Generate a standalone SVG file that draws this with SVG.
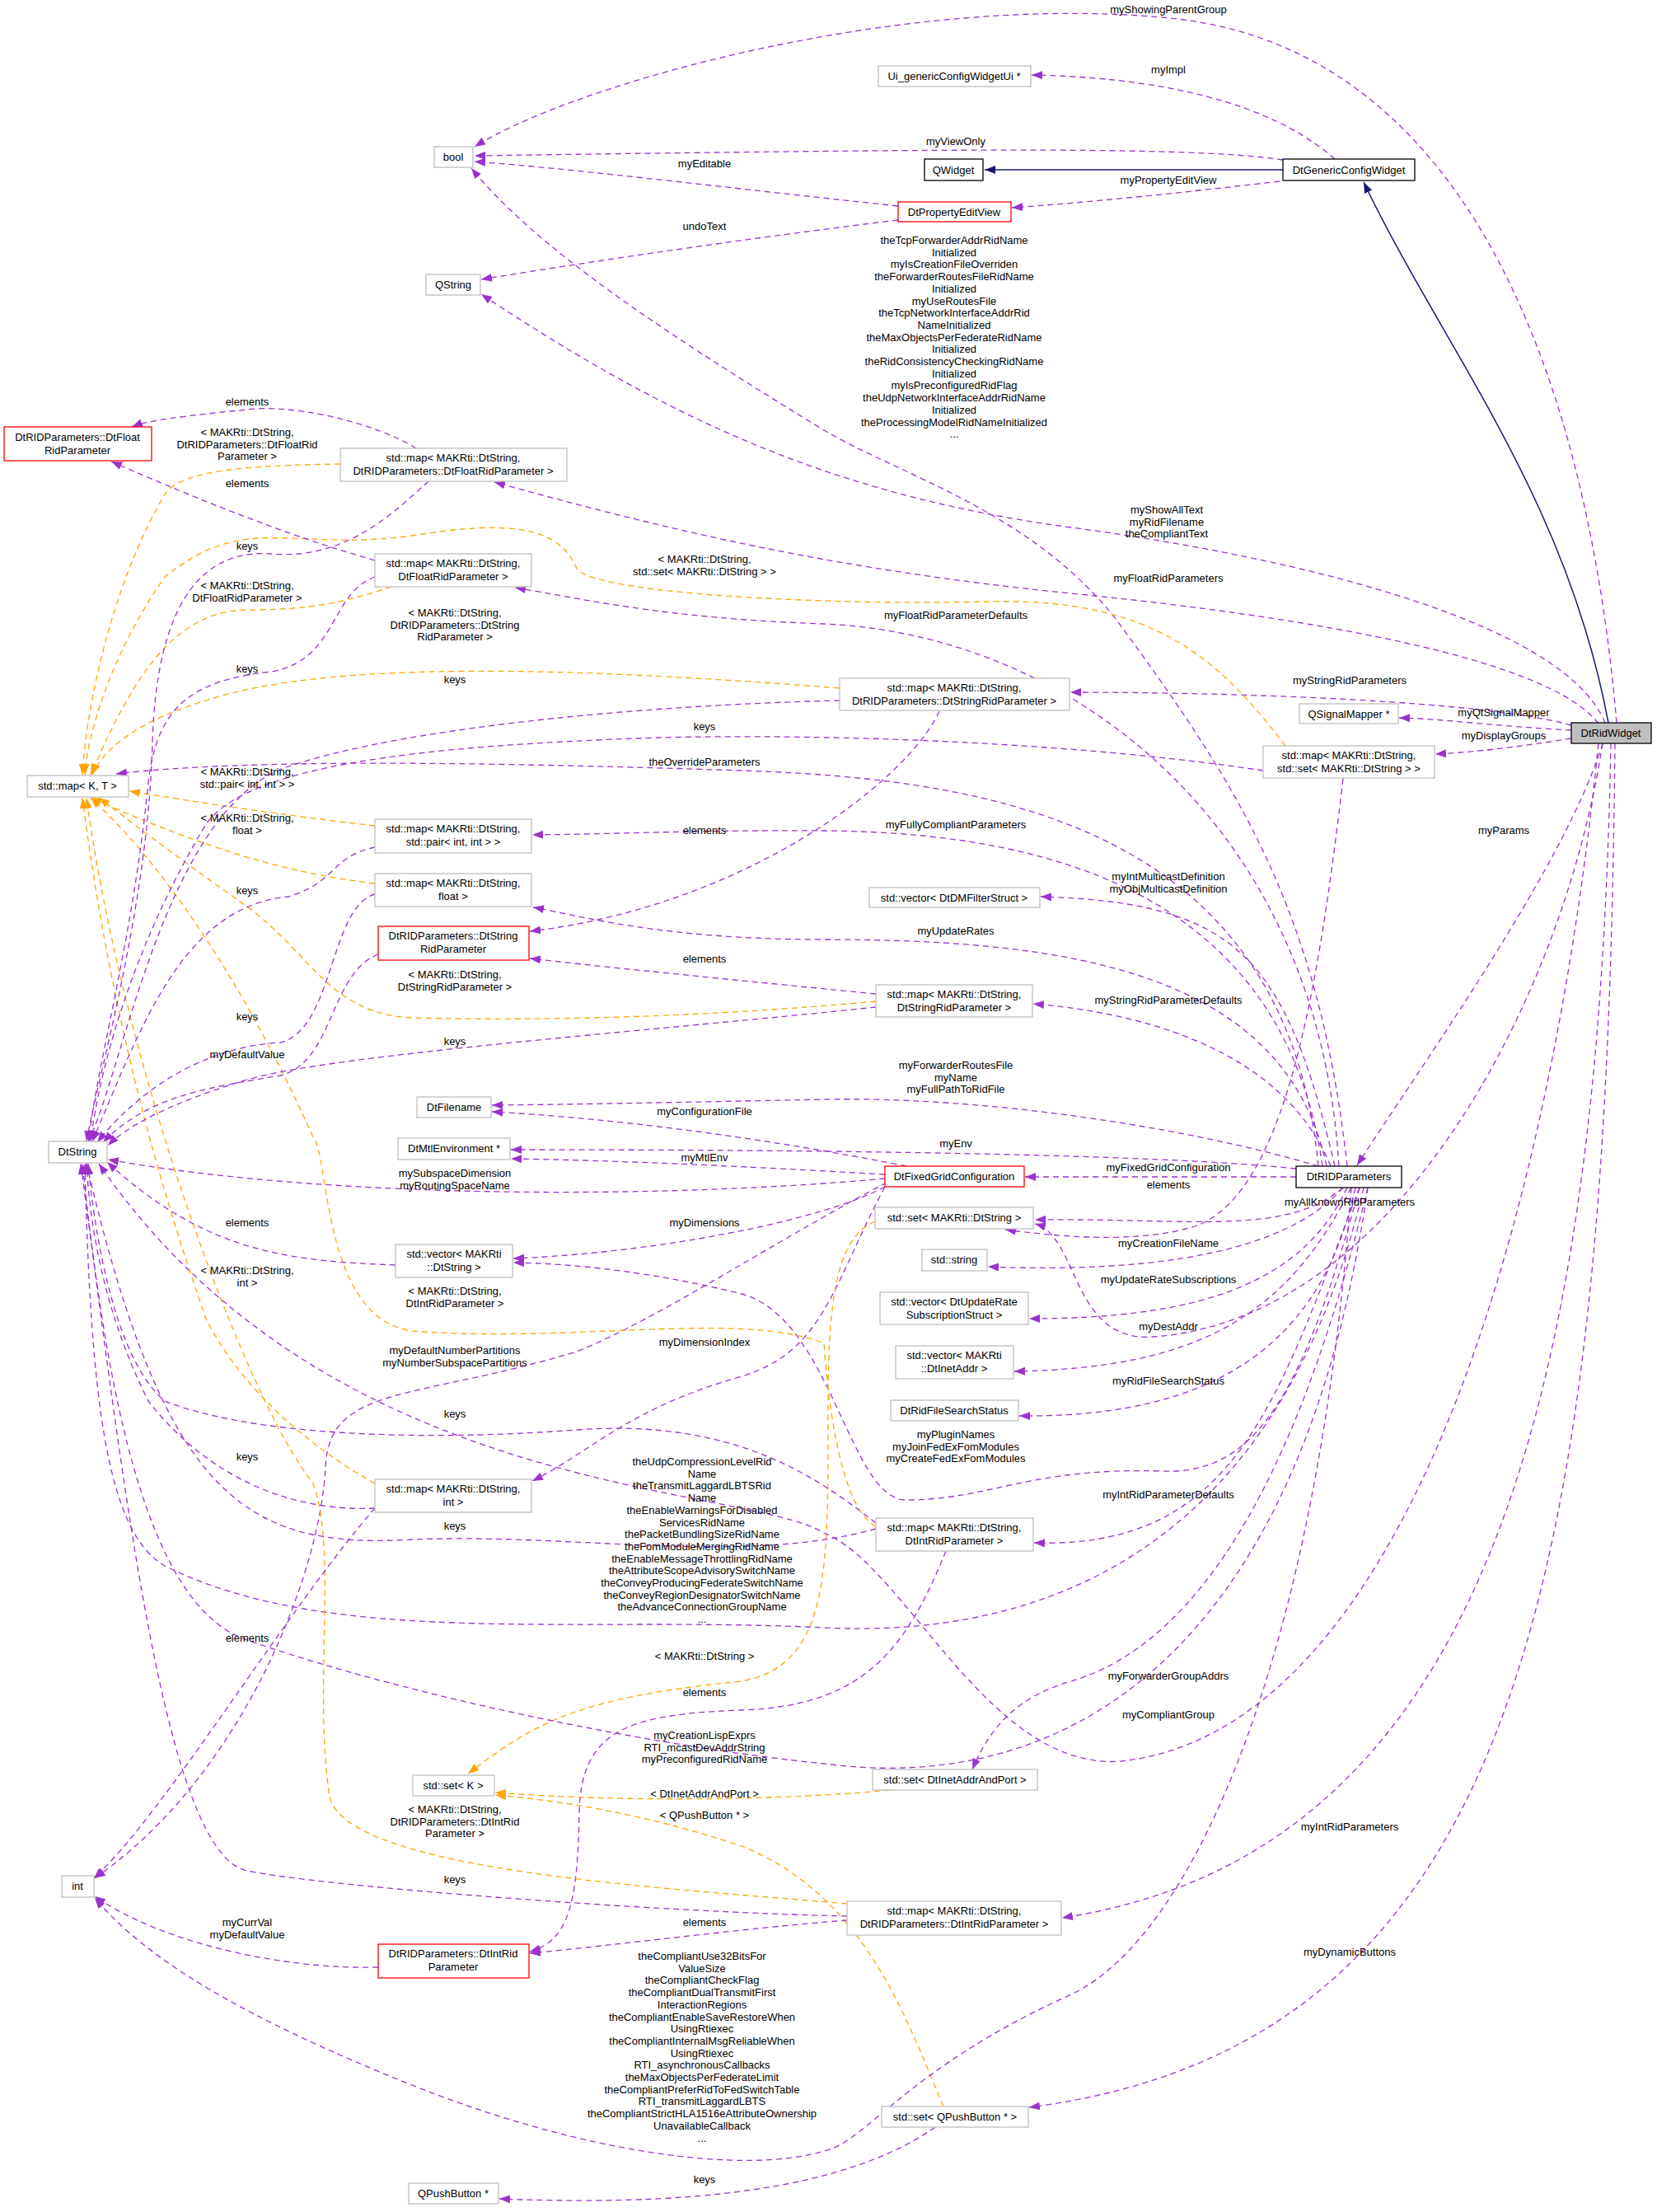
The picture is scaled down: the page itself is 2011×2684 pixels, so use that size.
<svg xmlns="http://www.w3.org/2000/svg" width="2011" height="2684" viewBox="0 0 2011 2684">
<style>
text{font-family:"Liberation Sans",Arial,sans-serif;font-size:13px;fill:#000;text-anchor:middle}
.n{fill:#fff;stroke:#bfbfbf;stroke-width:1.3}
.r{fill:#fff;stroke:#ff0000;stroke-width:1.3}
.k{fill:#fff;stroke:#000;stroke-width:1.3}
.p{fill:none;stroke:#9a32cd;stroke-width:1.3;stroke-dasharray:7,5;marker-end:url(#ap)}
.o{fill:none;stroke:#ffa500;stroke-width:1.3;stroke-dasharray:7,5;marker-end:url(#ao)}
.b{fill:none;stroke:#191970;stroke-width:1.5;marker-end:url(#ab)}
</style>
<defs>
<marker id="ap" markerUnits="userSpaceOnUse" markerWidth="14" markerHeight="10" refX="13" refY="5" orient="auto"><path d="M0,0 L13,5 L0,10 z" fill="#9a32cd"/></marker>
<marker id="ao" markerUnits="userSpaceOnUse" markerWidth="14" markerHeight="10" refX="13" refY="5" orient="auto"><path d="M0,0 L13,5 L0,10 z" fill="#ffa500"/></marker>
<marker id="ab" markerUnits="userSpaceOnUse" markerWidth="14" markerHeight="10" refX="13" refY="5" orient="auto"><path d="M0,0 L13,5 L0,10 z" fill="#191970"/></marker>
</defs>
<rect width="2011" height="2684" fill="#fff"/>
<g id="connectors">
<path class="p" d="M1962,877 C1930,500 1800,60 1420,22 C1100,-10 700,100 576,178"/>
<path class="p" d="M1620,193 C1560,140 1450,95 1252,91"/>
<path class="p" d="M1557,194 C1450,178 1200,180 576,189"/>
<path class="b" d="M1557,206 L1195,206"/>
<path class="b" d="M1952,877 C1900,600 1750,420 1655,221"/>
<path class="p" d="M1553,220 C1450,232 1330,245 1228,252"/>
<path class="p" d="M1090,250 C900,230 700,205 576,196"/>
<path class="p" d="M1090,267 C900,290 700,320 584,339"/>
<path class="p" d="M1635,1415 C1600,1100 1500,950 1355,752 C1250,620 1100,580 1000,522 C800,400 650,300 572,204"/>
<path class="p" d="M1948,877 C1900,760 1600,680 1300,640 C1000,600 800,500 584,357"/>
<path class="p" d="M1940,878 C1880,800 1600,750 1300,720 C1000,690 800,640 600,585"/>
<path class="p" d="M1625,1415 C1600,1000 1300,770 1000,757 C800,750 700,725 625,713"/>
<path class="p" d="M1907,880 C1800,850 1500,840 1299,840"/>
<path class="p" d="M1907,886 C1800,880 1750,872 1698,871"/>
<path class="p" d="M1907,896 C1850,905 1800,912 1742,915"/>
<path class="p" d="M1945,902 C1900,1050 1720,1300 1647,1414"/>
<path class="p" d="M1600,1415 C1560,1000 1200,945 900,935 C600,925 300,920 141,939"/>
<path class="p" d="M1605,1415 C1560,1100 1300,1010 1000,1008 C850,1007 750,1012 646,1013"/>
<path class="p" d="M1610,1415 C1560,1180 1300,1140 1000,1140 C800,1140 700,1110 647,1101"/>
<path class="p" d="M1140,863 C1100,950 900,1100 643,1130"/>
<path class="p" d="M1063,1206 C900,1190 750,1175 643,1163"/>
<path class="p" d="M1615,1415 C1560,1280 1400,1230 1254,1218"/>
<path class="p" d="M1620,1415 C1560,1160 1500,1095 1263,1088"/>
<path class="p" d="M1600,1415 C1450,1370 1200,1330 1000,1334 C800,1338 700,1340 597,1341"/>
<path class="p" d="M1100,1415 C1000,1395 800,1360 597,1349"/>
<path class="p" d="M1573,1418 C1400,1400 1000,1395 620,1395"/>
<path class="p" d="M1074,1425 C900,1415 750,1408 620,1406"/>
<path class="p" d="M1074,1430 C800,1455 400,1455 131,1407"/>
<path class="p" d="M1573,1428 L1244,1428"/>
<path class="p" d="M1630,945 C1600,1200 1560,1450 1450,1488 C1380,1510 1280,1500 1220,1492"/>
<path class="p" d="M1630,1441 C1560,1500 1450,1478 1256,1480"/>
<path class="p" d="M1945,902 C1900,1200 1700,1600 1400,1622 C1300,1630 1310,1500 1256,1485"/>
<path class="p" d="M1640,1441 C1560,1600 1450,1660 1231,1664"/>
<path class="p" d="M1630,1441 C1560,1520 1400,1545 1199,1537"/>
<path class="p" d="M1635,1441 C1580,1560 1450,1600 1249,1600"/>
<path class="p" d="M1645,1441 C1600,1650 1450,1720 1237,1718"/>
<path class="p" d="M1650,1441 C1580,1700 1520,1790 1410,1785 C1250,1780 1200,1820 1100,1820 C1030,1820 1010,1600 900,1570 C800,1545 700,1533 623,1532"/>
<path class="p" d="M1074,1440 C1000,1480 800,1520 623,1527"/>
<path class="p" d="M1074,1440 C1010,1560 1000,1640 900,1670 C760,1710 720,1760 646,1797"/>
<path class="p" d="M1076,1435 C950,1500 800,1600 700,1640 C500,1700 400,1680 395,1780 C390,1900 300,2150 115,2279"/>
<path class="p" d="M1650,1441 C1550,1700 1500,1880 1255,1872"/>
<path class="p" d="M1655,1441 C1560,1850 1300,1990 1000,1975 C700,1960 400,2000 200,1900 C130,1860 110,1700 103,1412"/>
<path class="o" d="M1062,1482 C1020,1500 1005,1560 1005,1700 C1005,1900 1010,2020 900,2040 C700,2060 650,2090 568,2152"/>
<path class="p" d="M1148,1882 C1100,2000 1050,2070 900,2075 C760,2080 705,2100 703,2200 C701,2310 690,2355 643,2368"/>
<path class="p" d="M1660,1441 C1580,2000 1300,2180 1000,2140 C800,2120 500,2060 300,1990 C180,1950 130,1700 100,1412"/>
<path class="o" d="M1080,2172 C1000,2180 800,2190 601,2175"/>
<path class="o" d="M1145,2556 C1100,2450 1050,2300 900,2240 C780,2200 680,2185 601,2178"/>
<path class="p" d="M1660,1441 C1550,1900 1400,2010 1300,2040 C1230,2060 1200,2100 1180,2147"/>
<path class="p" d="M1940,902 C1880,1500 1700,2100 1361,2137 C1200,2150 1100,1900 1000,1860 C900,1800 400,1820 120,1412"/>
<path class="p" d="M1955,902 C1940,1700 1800,2250 1289,2327"/>
<path class="p" d="M1960,902 C1950,1900 1850,2480 1249,2557"/>
<path class="p" d="M1135,2581 C1050,2640 900,2680 606,2668"/>
<path class="p" d="M1640,1441 C1600,2000 1450,2350 1300,2420 C1100,2510 1050,2600 1000,2610 C900,2640 700,2610 500,2530 C300,2450 180,2380 115,2303"/>
<path class="p" d="M459,2387 C350,2390 200,2360 115,2301"/>
<path class="p" d="M1028,2330 C900,2340 750,2360 643,2370"/>
<path class="p" d="M1028,2325 C800,2320 400,2290 300,2270 C200,2250 150,1800 98,1412"/>
<path class="o" d="M1028,2310 C800,2290 420,2270 400,2180 C380,2050 410,1880 380,1800 C300,1700 150,1300 105,968"/>
<path class="p" d="M455,1830 C350,1950 200,2200 114,2279"/>
<path class="p" d="M455,1830 C350,1835 250,1790 180,1700 C130,1600 110,1500 105,1412"/>
<path class="o" d="M455,1800 C400,1770 300,1700 250,1600 C180,1400 130,1200 100,968"/>
<path class="p" d="M1063,1855 C900,1900 700,1860 500,1868 C300,1880 200,1820 105,1412"/>
<path class="p" d="M1063,1848 C1000,1800 900,1720 700,1735 C500,1750 300,1740 200,1700 C140,1650 115,1500 107,1412"/>
<path class="o" d="M1063,1852 C1020,1830 1005,1700 1000,1630 C900,1590 700,1630 500,1615 C390,1600 400,1400 380,1380 C300,1200 200,1050 110,968"/>
<path class="p" d="M480,1535 C350,1530 250,1520 130,1410"/>
<path class="p" d="M1063,1222 C800,1250 400,1280 300,1310 C200,1340 150,1370 131,1390"/>
<path class="o" d="M1063,1215 C900,1230 700,1240 500,1235 C400,1230 380,1160 300,1100 C200,1030 150,990 120,968"/>
<path class="p" d="M459,1158 C400,1180 405,1290 340,1305 C250,1320 180,1330 125,1386"/>
<path class="p" d="M455,1085 C400,1100 405,1250 340,1265 C250,1270 170,1320 118,1386"/>
<path class="o" d="M455,1072 C350,1060 250,1030 110,968"/>
<path class="p" d="M455,1028 C400,1040 410,1070 350,1088 C220,1100 170,1250 112,1385"/>
<path class="o" d="M455,1002 C350,990 250,975 157,960"/>
<path class="p" d="M1019,850 C800,855 500,880 350,930 C200,980 150,1300 107,1385"/>
<path class="o" d="M1019,835 C700,810 400,800 250,850 C150,880 120,920 112,940"/>
<path class="p" d="M1533,935 C1300,900 1000,890 800,895 C500,905 300,930 250,1000 C160,1150 120,1300 110,1385"/>
<path class="o" d="M1560,905 C1480,800 1400,725 1200,730 C1000,735 720,720 700,690 C680,640 620,630 500,650 C350,670 300,620 200,700 C130,800 105,900 103,940"/>
<path class="p" d="M455,680 C350,650 250,610 135,560"/>
<path class="p" d="M455,700 C400,720 410,800 330,815 C230,825 190,860 180,950 C160,1150 115,1300 108,1385"/>
<path class="o" d="M475,712 C420,730 380,740 300,740 C200,740 150,850 110,940"/>
<path class="p" d="M505,544 C450,510 350,490 300,497 C220,505 180,510 160,518"/>
<path class="p" d="M520,584 C480,620 420,680 330,672 C240,665 190,740 185,900 C180,1100 120,1300 105,1385"/>
<path class="o" d="M413,563 C300,565 220,570 200,600 C140,700 105,850 100,940"/>
</g>
<g id="edge-labels">
<text x="1418" y="16">myShowingParentGroup</text>
<text x="1418" y="89">myImpl</text>
<text x="1160" y="176">myViewOnly</text>
<text x="1418" y="223">myPropertyEditView</text>
<text x="855" y="203">myEditable</text>
<text x="855" y="279">undoText</text>
<text x="1158" y="296"><tspan x="1158">theTcpForwarderAddrRidName</tspan><tspan x="1158" dy="14.7">Initialized</tspan><tspan x="1158" dy="14.7">myIsCreationFileOverriden</tspan><tspan x="1158" dy="14.7">theForwarderRoutesFileRidName</tspan><tspan x="1158" dy="14.7">Initialized</tspan><tspan x="1158" dy="14.7">myUseRoutesFile</tspan><tspan x="1158" dy="14.7">theTcpNetworkInterfaceAddrRid</tspan><tspan x="1158" dy="14.7">NameInitialized</tspan><tspan x="1158" dy="14.7">theMaxObjectsPerFederateRidName</tspan><tspan x="1158" dy="14.7">Initialized</tspan><tspan x="1158" dy="14.7">theRidConsistencyCheckingRidName</tspan><tspan x="1158" dy="14.7">Initialized</tspan><tspan x="1158" dy="14.7">myIsPreconfiguredRidFlag</tspan><tspan x="1158" dy="14.7">theUdpNetworkInterfaceAddrRidName</tspan><tspan x="1158" dy="14.7">Initialized</tspan><tspan x="1158" dy="14.7">theProcessingModelRidNameInitialized</tspan><tspan x="1158" dy="14.7">...</tspan></text>
<text x="1416" y="623"><tspan x="1416">myShowAllText</tspan><tspan x="1416" dy="14.7">myRidFilename</tspan><tspan x="1416" dy="14.7">theCompliantText</tspan></text>
<text x="1418" y="706">myFloatRidParameters</text>
<text x="1160" y="751">myFloatRidParameterDefaults</text>
<text x="1638" y="830">myStringRidParameters</text>
<text x="1825" y="869">myQtSignalMapper</text>
<text x="1825" y="897">myDisplayGroups</text>
<text x="1825" y="1012">myParams</text>
<text x="855" y="929">theOverrideParameters</text>
<text x="1160" y="1005">myFullyCompliantParameters</text>
<text x="855" y="1012">elements</text>
<text x="1160" y="1134">myUpdateRates</text>
<text x="855" y="1168">elements</text>
<text x="1418" y="1218">myStringRidParameterDefaults</text>
<text x="1418" y="1068"><tspan x="1418">myIntMulticastDefinition</tspan><tspan x="1418" dy="14.7">myObjMulticastDefinition</tspan></text>
<text x="1160" y="1297"><tspan x="1160">myForwarderRoutesFile</tspan><tspan x="1160" dy="14.7">myName</tspan><tspan x="1160" dy="14.7">myFullPathToRidFile</tspan></text>
<text x="855" y="1353">myConfigurationFile</text>
<text x="1160" y="1392">myEnv</text>
<text x="855" y="1409">myMtlEnv</text>
<text x="552" y="1428"><tspan x="552">mySubspaceDimension</tspan><tspan x="552" dy="14.7">myRoutingSpaceName</tspan></text>
<text x="1418" y="1421">myFixedGridConfiguration</text>
<text x="1418" y="1442">elements</text>
<text x="1638" y="1463">myAllKnownRidParameters</text>
<text x="1418" y="1513">myCreationFileName</text>
<text x="1418" y="1557">myUpdateRateSubscriptions</text>
<text x="1418" y="1614">myDestAddr</text>
<text x="1418" y="1680">myRidFileSearchStatus</text>
<text x="1160" y="1745"><tspan x="1160">myPluginNames</tspan><tspan x="1160" dy="14.7">myJoinFedExFomModules</tspan><tspan x="1160" dy="14.7">myCreateFedExFomModules</tspan></text>
<text x="855" y="1488">myDimensions</text>
<text x="855" y="1633">myDimensionIndex</text>
<text x="552" y="1643"><tspan x="552">myDefaultNumberPartitions</tspan><tspan x="552" dy="14.7">myNumberSubspacePartitions</tspan></text>
<text x="1418" y="1818">myIntRidParameterDefaults</text>
<text x="852" y="1778"><tspan x="852">theUdpCompressionLevelRid</tspan><tspan x="852" dy="14.7">Name</tspan><tspan x="852" dy="14.7">theTransmitLaggardLBTSRid</tspan><tspan x="852" dy="14.7">Name</tspan><tspan x="852" dy="14.7">theEnableWarningsForDisabled</tspan><tspan x="852" dy="14.7">ServicesRidName</tspan><tspan x="852" dy="14.7">thePacketBundlingSizeRidName</tspan><tspan x="852" dy="14.7">theFomModuleMergingRidName</tspan><tspan x="852" dy="14.7">theEnableMessageThrottlingRidName</tspan><tspan x="852" dy="14.7">theAttributeScopeAdvisorySwitchName</tspan><tspan x="852" dy="14.7">theConveyProducingFederateSwitchName</tspan><tspan x="852" dy="14.7">theConveyRegionDesignatorSwitchName</tspan><tspan x="852" dy="14.7">theAdvanceConnectionGroupName</tspan><tspan x="852" dy="14.7">...</tspan></text>
<text x="855" y="2014">&lt; MAKRti::DtString &gt;</text>
<text x="855" y="2058">elements</text>
<text x="855" y="2110"><tspan x="855">myCreationLispExprs</tspan><tspan x="855" dy="14.7">RTI_mcastDevAddrString</tspan><tspan x="855" dy="14.7">myPreconfiguredRidName</tspan></text>
<text x="855" y="2181">&lt; DtInetAddrAndPort &gt;</text>
<text x="855" y="2207">&lt; QPushButton * &gt;</text>
<text x="1418" y="2038">myForwarderGroupAddrs</text>
<text x="1418" y="2085">myCompliantGroup</text>
<text x="1638" y="2221">myIntRidParameters</text>
<text x="1638" y="2373">myDynamicButtons</text>
<text x="855" y="2649">keys</text>
<text x="852" y="2378"><tspan x="852">theCompliantUse32BitsFor</tspan><tspan x="852" dy="14.7">ValueSize</tspan><tspan x="852" dy="14.7">theCompliantCheckFlag</tspan><tspan x="852" dy="14.7">theCompliantDualTransmitFirst</tspan><tspan x="852" dy="14.7">InteractionRegions</tspan><tspan x="852" dy="14.7">theCompliantEnableSaveRestoreWhen</tspan><tspan x="852" dy="14.7">UsingRtiexec</tspan><tspan x="852" dy="14.7">theCompliantInternalMsgReliableWhen</tspan><tspan x="852" dy="14.7">UsingRtiexec</tspan><tspan x="852" dy="14.7">RTI_asynchronousCallbacks</tspan><tspan x="852" dy="14.7">theMaxObjectsPerFederateLimit</tspan><tspan x="852" dy="14.7">theCompliantPreferRidToFedSwitchTable</tspan><tspan x="852" dy="14.7">RTI_transmitLaggardLBTS</tspan><tspan x="852" dy="14.7">theCompliantStrictHLA1516eAttributeOwnership</tspan><tspan x="852" dy="14.7">UnavailableCallback</tspan><tspan x="852" dy="14.7">...</tspan></text>
<text x="300" y="2337"><tspan x="300">myCurrVal</tspan><tspan x="300" dy="14.7">myDefaultValue</tspan></text>
<text x="855" y="2337">elements</text>
<text x="552" y="2285">keys</text>
<text x="552" y="2200"><tspan x="552">&lt; MAKRti::DtString,</tspan><tspan x="552" dy="14.7">DtRIDParameters::DtIntRid</tspan><tspan x="552" dy="14.7">Parameter &gt;</tspan></text>
<text x="300" y="1992">elements</text>
<text x="300" y="1772">keys</text>
<text x="300" y="1546"><tspan x="300">&lt; MAKRti::DtString,</tspan><tspan x="300" dy="14.7">int &gt;</tspan></text>
<text x="552" y="1856">keys</text>
<text x="552" y="1720">keys</text>
<text x="552" y="1571"><tspan x="552">&lt; MAKRti::DtString,</tspan><tspan x="552" dy="14.7">DtIntRidParameter &gt;</tspan></text>
<text x="300" y="1488">elements</text>
<text x="552" y="1268">keys</text>
<text x="552" y="1187"><tspan x="552">&lt; MAKRti::DtString,</tspan><tspan x="552" dy="14.7">DtStringRidParameter &gt;</tspan></text>
<text x="300" y="1284">myDefaultValue</text>
<text x="300" y="1238">keys</text>
<text x="300" y="997"><tspan x="300">&lt; MAKRti::DtString,</tspan><tspan x="300" dy="14.7">float &gt;</tspan></text>
<text x="300" y="1085">keys</text>
<text x="300" y="941"><tspan x="300">&lt; MAKRti::DtString,</tspan><tspan x="300" dy="14.7">std::pair&lt; int, int &gt; &gt;</tspan></text>
<text x="552" y="829">keys</text>
<text x="552" y="748"><tspan x="552">&lt; MAKRti::DtString,</tspan><tspan x="552" dy="14.7">DtRIDParameters::DtString</tspan><tspan x="552" dy="14.7">RidParameter &gt;</tspan></text>
<text x="855" y="886">keys</text>
<text x="855" y="683"><tspan x="855">&lt; MAKRti::DtString,</tspan><tspan x="855" dy="14.7">std::set&lt; MAKRti::DtString &gt; &gt;</tspan></text>
<text x="300" y="591">elements</text>
<text x="300" y="816">keys</text>
<text x="300" y="715"><tspan x="300">&lt; MAKRti::DtString,</tspan><tspan x="300" dy="14.7">DtFloatRidParameter &gt;</tspan></text>
<text x="300" y="492">elements</text>
<text x="300" y="667">keys</text>
<text x="300" y="529"><tspan x="300">&lt; MAKRti::DtString,</tspan><tspan x="300" dy="14.7">DtRIDParameters::DtFloatRid</tspan><tspan x="300" dy="14.7">Parameter &gt;</tspan></text>
</g>
<g id="DtRidWidget"><rect x="1907" y="877" width="97" height="25" fill="#bfbfbf" stroke="#000" stroke-width="1.3"/><text x="1955" y="894">DtRidWidget</text></g>
<g id="DtGenericConfigWidget"><rect class="k" x="1557" y="193" width="160" height="26"/><text x="1637" y="211">DtGenericConfigWidget</text></g>
<g id="QWidget"><rect class="k" x="1122" y="193" width="71" height="26"/><text x="1157" y="211">QWidget</text></g>
<g id="Ui_genericConfigWidgetUi"><rect class="n" x="1066" y="80" width="185" height="25"/><text x="1158" y="97">Ui_genericConfigWidgetUi *</text></g>
<g id="DtPropertyEditView"><rect class="r" x="1090" y="245" width="137" height="24"/><text x="1158" y="262">DtPropertyEditView</text></g>
<g id="bool"><rect class="n" x="527" y="178" width="47" height="25"/><text x="550" y="195">bool</text></g>
<g id="QString"><rect class="n" x="517" y="333" width="66" height="25"/><text x="550" y="350">QString</text></g>
<g id="DtFloatRidParameter"><rect class="r" x="5" y="518" width="179" height="41"/><text x="94" y="535">DtRIDParameters::DtFloat</text><text x="94" y="551">RidParameter</text></g>
<g id="mapDtRIDFloat"><rect class="n" x="413" y="544" width="275" height="40"/><text x="550" y="560">std::map&lt; MAKRti::DtString,</text><text x="550" y="576">DtRIDParameters::DtFloatRidParameter &gt;</text></g>
<g id="mapFloat"><rect class="n" x="455" y="672" width="190" height="40"/><text x="550" y="688">std::map&lt; MAKRti::DtString,</text><text x="550" y="704">DtFloatRidParameter &gt;</text></g>
<g id="mapDtRIDString"><rect class="n" x="1019" y="823" width="279" height="39"/><text x="1158" y="839">std::map&lt; MAKRti::DtString,</text><text x="1158" y="855">DtRIDParameters::DtStringRidParameter &gt;</text></g>
<g id="QSignalMapper"><rect class="n" x="1577" y="854" width="120" height="24"/><text x="1637" y="871">QSignalMapper *</text></g>
<g id="mapSet"><rect class="n" x="1533" y="905" width="208" height="39"/><text x="1637" y="921">std::map&lt; MAKRti::DtString,</text><text x="1637" y="937">std::set&lt; MAKRti::DtString &gt; &gt;</text></g>
<g id="mapKT"><rect class="n" x="33" y="941" width="123" height="26"/><text x="94" y="958">std::map&lt; K, T &gt;</text></g>
<g id="mapPair"><rect class="n" x="455" y="994" width="190" height="41"/><text x="550" y="1010">std::map&lt; MAKRti::DtString,</text><text x="550" y="1026">std::pair&lt; int, int &gt; &gt;</text></g>
<g id="mapFloatPlain"><rect class="n" x="455" y="1060" width="190" height="40"/><text x="550" y="1076">std::map&lt; MAKRti::DtString,</text><text x="550" y="1092">float &gt;</text></g>
<g id="DtStringRidParameter"><rect class="r" x="459" y="1124" width="183" height="41"/><text x="550" y="1140">DtRIDParameters::DtString</text><text x="550" y="1156">RidParameter</text></g>
<g id="vectorDMFilter"><rect class="n" x="1055" y="1077" width="207" height="24"/><text x="1158" y="1094">std::vector&lt; DtDMFilterStruct &gt;</text></g>
<g id="mapStringRid"><rect class="n" x="1063" y="1195" width="190" height="39"/><text x="1158" y="1211">std::map&lt; MAKRti::DtString,</text><text x="1158" y="1227">DtStringRidParameter &gt;</text></g>
<g id="DtFilename"><rect class="n" x="506" y="1331" width="90" height="25"/><text x="551" y="1348">DtFilename</text></g>
<g id="DtString"><rect class="n" x="59" y="1385" width="71" height="26"/><text x="94" y="1402">DtString</text></g>
<g id="DtMtlEnvironment"><rect class="n" x="483" y="1381" width="136" height="26"/><text x="551" y="1398">DtMtlEnvironment *</text></g>
<g id="DtFixedGridConfiguration"><rect class="r" x="1074" y="1415" width="169" height="25"/><text x="1158" y="1432">DtFixedGridConfiguration</text></g>
<g id="DtRIDParameters"><rect class="k" x="1573" y="1415" width="128" height="26"/><text x="1637" y="1432">DtRIDParameters</text></g>
<g id="setDtString"><rect class="n" x="1062" y="1465" width="192" height="26"/><text x="1158" y="1482">std::set&lt; MAKRti::DtString &gt;</text></g>
<g id="vectorDtString"><rect class="n" x="480" y="1510" width="142" height="40"/><text x="551" y="1526">std::vector&lt; MAKRti</text><text x="551" y="1542">::DtString &gt;</text></g>
<g id="stdstring"><rect class="n" x="1119" y="1516" width="79" height="26"/><text x="1158" y="1533">std::string</text></g>
<g id="vectorUpdateRate"><rect class="n" x="1068" y="1568" width="180" height="39"/><text x="1158" y="1584">std::vector&lt; DtUpdateRate</text><text x="1158" y="1600">SubscriptionStruct &gt;</text></g>
<g id="vectorInetAddr"><rect class="n" x="1087" y="1633" width="143" height="40"/><text x="1158" y="1649">std::vector&lt; MAKRti</text><text x="1158" y="1665">::DtInetAddr &gt;</text></g>
<g id="DtRidFileSearchStatus"><rect class="n" x="1081" y="1699" width="155" height="25"/><text x="1158" y="1716">DtRidFileSearchStatus</text></g>
<g id="mapInt"><rect class="n" x="455" y="1795" width="190" height="40"/><text x="550" y="1811">std::map&lt; MAKRti::DtString,</text><text x="550" y="1827">int &gt;</text></g>
<g id="mapIntRid"><rect class="n" x="1063" y="1842" width="191" height="40"/><text x="1158" y="1858">std::map&lt; MAKRti::DtString,</text><text x="1158" y="1874">DtIntRidParameter &gt;</text></g>
<g id="setInetAddrAndPort"><rect class="n" x="1059" y="2147" width="200" height="25"/><text x="1159" y="2164">std::set&lt; DtInetAddrAndPort &gt;</text></g>
<g id="setK"><rect class="n" x="501" y="2154" width="99" height="25"/><text x="550" y="2171">std::set&lt; K &gt;</text></g>
<g id="int"><rect class="n" x="75" y="2276" width="39" height="26"/><text x="94" y="2293">int</text></g>
<g id="mapDtRIDInt"><rect class="n" x="1028" y="2307" width="260" height="41"/><text x="1158" y="2323">std::map&lt; MAKRti::DtString,</text><text x="1158" y="2339">DtRIDParameters::DtIntRidParameter &gt;</text></g>
<g id="DtIntRidParameter"><rect class="r" x="459" y="2359" width="183" height="41"/><text x="550" y="2375">DtRIDParameters::DtIntRid</text><text x="550" y="2391">Parameter</text></g>
<g id="setQPushButton"><rect class="n" x="1070" y="2556" width="178" height="25"/><text x="1159" y="2573">std::set&lt; QPushButton * &gt;</text></g>
<g id="QPushButton"><rect class="n" x="496" y="2649" width="109" height="25"/><text x="550" y="2666">QPushButton *</text></g>
</svg>
